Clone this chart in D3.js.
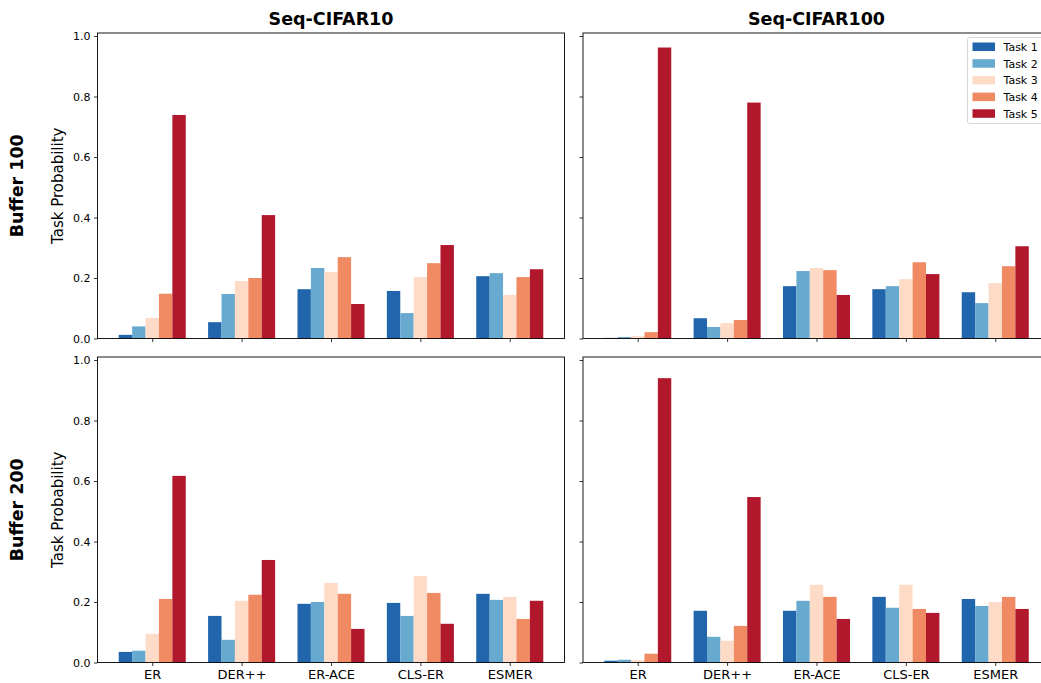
<!doctype html>
<html>
<head>
<meta charset="UTF-8">
<title>Task Probability</title>
<script src="https://d3js.org/d3.v7.min.js"></script>
<style>
  body { margin: 0; background: #fff; }
  svg { display: block; font-family: "DejaVu Sans", sans-serif; }
</style>
</head>
<body>
<script>
// methods on the x axis, tasks as the series
var categories = ["ER", "DER++", "ER-ACE", "CLS-ER", "ESMER"];
var tasks = ["Task 1", "Task 2", "Task 3", "Task 4", "Task 5"];
var colors = ["#2166ac", "#67a9cf", "#fddbc7", "#ef8a62", "#b2182b"];
var datasets = ["Seq-CIFAR10", "Seq-CIFAR100"];
var buffers = ["Buffer 100", "Buffer 200"];
var yTicks = [0, 0.2, 0.4, 0.6, 0.8, 1.0];

// one row per task, one value per method
var b100_cifar10 = [
  [0.012, 0.054, 0.163, 0.157, 0.206],
  [0.040, 0.147, 0.233, 0.084, 0.216],
  [0.068, 0.190, 0.220, 0.203, 0.144],
  [0.148, 0.200, 0.269, 0.249, 0.203],
  [0.739, 0.408, 0.114, 0.309, 0.229]
];
var b100_cifar100 = [
  [0.002, 0.067, 0.173, 0.163, 0.153],
  [0.005, 0.038, 0.223, 0.173, 0.117],
  [0.008, 0.051, 0.233, 0.196, 0.183],
  [0.021, 0.061, 0.226, 0.252, 0.239],
  [0.962, 0.780, 0.144, 0.213, 0.305]
];
var b200_cifar10 = [
  [0.035, 0.154, 0.194, 0.197, 0.227],
  [0.039, 0.075, 0.200, 0.154, 0.207],
  [0.095, 0.204, 0.263, 0.286, 0.217],
  [0.210, 0.224, 0.227, 0.230, 0.144],
  [0.617, 0.339, 0.111, 0.128, 0.204]
];
var b200_cifar100 = [
  [0.006, 0.171, 0.171, 0.217, 0.210],
  [0.009, 0.085, 0.204, 0.181, 0.187],
  [0.008, 0.072, 0.257, 0.257, 0.200],
  [0.029, 0.121, 0.217, 0.177, 0.217],
  [0.940, 0.547, 0.144, 0.164, 0.177]
];
var panels = [[b100_cifar10, b100_cifar100], [b200_cifar10, b200_cifar100]];

var W = 1041, H = 683;
var colX = [[97.5, 564.5], [583, 1050]];
var rowY = [[33, 338.5], [357, 662.5]];
var barW = 0.15;

var svg = d3.select("body").append("svg")
  .attr("width", W).attr("height", H)
  .style("overflow", "hidden");

panels.forEach(function(row, r) {
  row.forEach(function(data, c) {
    var x = d3.scaleLinear().domain([-0.6125, 4.6125]).range(colX[c]);
    var y = d3.scaleLinear().domain([0, 1.01]).range([rowY[r][1], rowY[r][0]]);
    var g = svg.append("g");

    // bars
    data.forEach(function(vals, t) {
      g.selectAll(null).data(vals).enter().append("rect")
        .attr("x", function(d, i) { return x(i + (t - 2.5) * barW); })
        .attr("width", x(barW) - x(0))
        .attr("y", function(d) { return y(d); })
        .attr("height", function(d) { return y(0) - y(d); })
        .attr("fill", colors[t]);
    });

    // y axis
    var yAxis = d3.axisLeft(y).tickValues(yTicks).tickSize(3.5).tickPadding(3.5)
      .tickFormat(c === 0 ? d3.format(".1f") : "");
    var ya = g.append("g").attr("transform", "translate(" + colX[c][0] + ",0)").call(yAxis);
    ya.select(".domain").remove();
    ya.selectAll("text").attr("font-size", 11).attr("fill", "#000")
      .attr("font-family", "DejaVu Sans");
    ya.selectAll("line").attr("stroke", "#000").attr("stroke-width", 0.8);

    // x axis
    var xAxis = d3.axisBottom(x).tickValues(d3.range(categories.length)).tickSize(3.5).tickPadding(4)
      .tickFormat(function(i) { return r === 1 ? categories[i] : ""; });
    var xa = g.append("g").attr("transform", "translate(0," + rowY[r][1] + ")").call(xAxis);
    xa.select(".domain").remove();
    xa.selectAll("text").attr("font-size", 13).attr("fill", "#000")
      .attr("font-family", "DejaVu Sans");
    xa.selectAll("line").attr("stroke", "#000").attr("stroke-width", 0.8);

    // frame
    g.append("rect")
      .attr("x", colX[c][0]).attr("y", rowY[r][0])
      .attr("width", colX[c][1] - colX[c][0])
      .attr("height", rowY[r][1] - rowY[r][0])
      .attr("fill", "none").attr("stroke", "#000").attr("stroke-width", 0.9);

    if (c === 0) {
      var cy = (rowY[r][0] + rowY[r][1]) / 2;
      g.append("text")
        .attr("transform", "translate(63," + cy + ") rotate(-90)")
        .attr("text-anchor", "middle").attr("font-size", 15)
        .text("Task Probability");
      g.append("text")
        .attr("transform", "translate(23," + cy + ") rotate(-90)")
        .attr("text-anchor", "middle").attr("font-size", 17.5).attr("font-weight", "bold")
        .text(buffers[r]);
    }
    if (r === 0) {
      g.append("text")
        .attr("x", (colX[c][0] + colX[c][1]) / 2).attr("y", 25)
        .attr("text-anchor", "middle").attr("font-size", 17.5).attr("font-weight", "bold")
        .text(datasets[c]);
    }
  });
});

// legend, upper right of top-right panel
var lg = svg.append("g").attr("transform", "translate(967.5,37.5)");
lg.append("rect").attr("width", 78).attr("height", 86).attr("rx", 2.5)
  .attr("fill", "#fff").attr("fill-opacity", 0.8)
  .attr("stroke", "#ccc").attr("stroke-width", 0.8);
var item = lg.selectAll("g.item").data(tasks).enter().append("g")
  .attr("transform", function(d, i) { return "translate(0," + (9.5 + i * 16.7) + ")"; });
item.append("rect").attr("x", 5).attr("y", -4.5).attr("width", 22.5).attr("height", 8.5)
  .attr("fill", function(d, i) { return colors[i]; });
item.append("text").attr("x", 36).attr("y", 4).attr("font-size", 11).text(function(d) { return d; });
</script>
</body>
</html>
